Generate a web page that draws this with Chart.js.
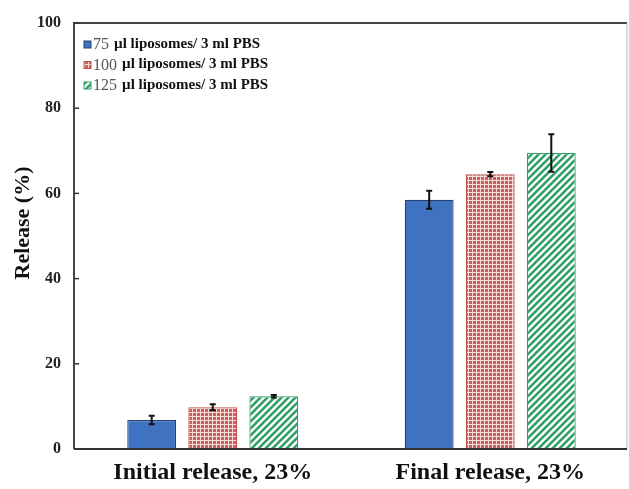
<!DOCTYPE html>
<html>
<head>
<meta charset="utf-8">
<script src="https://cdn.jsdelivr.net/npm/chart.js@4/dist/chart.umd.min.js"></script>
<style>
  html, body { margin: 0; padding: 0; background: #fff; }
  #wrap { width: 629px; height: 489px; }
</style>
</head>
<body>
<div id="wrap"><canvas id="c" width="629" height="489"></canvas></div>
<script>
// Release (%) per formulation and phase
const categories = ['Initial release, 23%', 'Final release, 23%'];
const seriesNumbers = ['75', '100', '125'];
const seriesSuffix = 'µl liposomes/ 3 ml PBS';
const release75 = [6.8, 58.5];
const err75 = [1.0, 2.1];
const release100 = [9.8, 64.5];
const err100 = [0.7, 0.5];
const release125 = [12.4, 69.5];
const err125 = [0.3, 4.4];
const yTicks = [0, 20, 40, 60, 80, 100];

const SERIF = '"Liberation Serif", "Times New Roman", serif';

// Fill patterns
function gridPattern() {
  const t = document.createElement('canvas');
  t.width = 4; t.height = 4;
  const g = t.getContext('2d');
  g.fillStyle = '#c9605c';
  g.fillRect(0, 0, 4, 4);
  g.fillStyle = '#f4dcda';
  g.fillRect(0, 0, 4, 1);
  g.fillRect(0, 0, 1, 4);
  return g.createPattern(t, 'repeat');
}
function hatchPattern() {
  const s = 7;
  const t = document.createElement('canvas');
  t.width = s; t.height = s;
  const g = t.getContext('2d');
  g.fillStyle = '#ffffff';
  g.fillRect(0, 0, s, s);
  g.strokeStyle = '#2f9f68';
  g.lineWidth = 2.6;
  g.beginPath();
  g.moveTo(-1, 1); g.lineTo(1, -1);
  g.moveTo(0, s); g.lineTo(s, 0);
  g.moveTo(s - 1, s + 1); g.lineTo(s + 1, s - 1);
  g.stroke();
  return g.createPattern(t, 'repeat');
}

const fills = ['#3f72c1', gridPattern(), hatchPattern()];
const borders = ['#24406e', '#c0504d', '#2f9f68'];
const errors = [err75, err100, err125];

// Error bars drawn over each bar
const errorBars = {
  id: 'errorBars',
  afterDatasetsDraw(chart) {
    const ctx = chart.ctx, y = chart.scales.y;
    ctx.save();
    ctx.strokeStyle = '#111';
    ctx.lineWidth = 2;
    chart.data.datasets.forEach((ds, i) => {
      chart.getDatasetMeta(i).data.forEach((bar, j) => {
        const v = ds.data[j], e = errors[i][j];
        const top = y.getPixelForValue(v + e), bot = y.getPixelForValue(v - e);
        ctx.beginPath();
        ctx.moveTo(bar.x, top); ctx.lineTo(bar.x, bot);
        ctx.moveTo(bar.x - 3, top); ctx.lineTo(bar.x + 3, top);
        ctx.moveTo(bar.x - 3, bot); ctx.lineTo(bar.x + 3, bot);
        ctx.stroke();
      });
    });
    ctx.restore();
  }
};

// Plot frame, inner ticks, y title and the in-plot legend
const decorations = {
  id: 'decorations',
  afterDraw(chart) {
    const ctx = chart.ctx, a = chart.chartArea, y = chart.scales.y;
    const rightEdge = chart.width - 2;
    ctx.save();
    // frame
    ctx.strokeStyle = '#444';
    ctx.lineWidth = 2;
    ctx.beginPath();
    ctx.moveTo(a.left, a.bottom); ctx.lineTo(a.left, a.top); ctx.lineTo(rightEdge, a.top);
    ctx.stroke();
    ctx.strokeStyle = '#bbb';
    ctx.lineWidth = 1;
    ctx.beginPath();
    ctx.moveTo(rightEdge, a.top); ctx.lineTo(rightEdge, a.bottom);
    ctx.stroke();
    ctx.strokeStyle = '#333';
    ctx.lineWidth = 2;
    ctx.beginPath();
    ctx.moveTo(a.left, a.bottom); ctx.lineTo(rightEdge, a.bottom);
    ctx.stroke();
    // inner ticks
    ctx.lineWidth = 1.5;
    yTicks.forEach(v => {
      const py = y.getPixelForValue(v);
      ctx.beginPath();
      ctx.moveTo(a.left, py); ctx.lineTo(a.left + 5, py);
      ctx.stroke();
    });
    // y title
    ctx.fillStyle = '#111';
    ctx.font = 'bold 22px ' + SERIF;
    ctx.textAlign = 'center';
    ctx.textBaseline = 'middle';
    ctx.translate(23, 223);
    ctx.rotate(-Math.PI / 2);
    ctx.fillText('Release (%)', 0, 0);
    ctx.restore();

    // legend
    ctx.save();
    chart.data.datasets.forEach((ds, i) => {
      const cy = 44 + i * 20.5;
      ctx.fillStyle = fills[i];
      ctx.fillRect(84, cy - 3, 7, 7);
      ctx.strokeStyle = borders[i];
      ctx.lineWidth = 1;
      ctx.strokeRect(84, cy - 3, 7, 7);
      ctx.fillStyle = '#555';
      ctx.textBaseline = 'middle';
      ctx.textAlign = 'left';
      ctx.font = '16px ' + SERIF;
      ctx.fillText(seriesNumbers[i], 93, cy + 1);
      const w = ctx.measureText(seriesNumbers[i]).width;
      ctx.fillStyle = '#111';
      ctx.font = 'bold 15px ' + SERIF;
      ctx.fillText(seriesSuffix, 93 + w + 5, cy);
    });
    ctx.restore();
  }
};

const datasets = [release75, release100, release125].map((d, i) => ({
  label: seriesNumbers[i] + ' ' + seriesSuffix,
  data: d,
  backgroundColor: fills[i],
  borderColor: borders[i],
  borderWidth: 1.2,
  barPercentage: 0.8,
  categoryPercentage: 0.66
}));

new Chart(document.getElementById('c'), {
  type: 'bar',
  data: { labels: categories, datasets },
  plugins: [errorBars, decorations],
  options: {
    responsive: false,
    animation: false,
    layout: { padding: { top: 23, right: -3, left: 0, bottom: 0 } },
    plugins: { legend: { display: false }, tooltip: { enabled: false } },
    scales: {
      x: {
        grid: { display: false, drawTicks: false },
        border: { display: false },
        ticks: { color: '#111', font: { family: SERIF, size: 24, weight: 'bold' }, padding: 9 },
        afterFit(s) { s.height = 40; }
      },
      y: {
        min: 0, max: 100,
        afterBuildTicks(s) { s.ticks = yTicks.map(v => ({ value: v })); },
        grid: { display: false, drawTicks: false },
        border: { display: false },
        ticks: { color: '#222', font: { family: SERIF, size: 16, weight: 'bold' }, padding: 13 },
        afterFit(s) { s.width = 74; }
      }
    }
  }
});
</script>
</body>
</html>
